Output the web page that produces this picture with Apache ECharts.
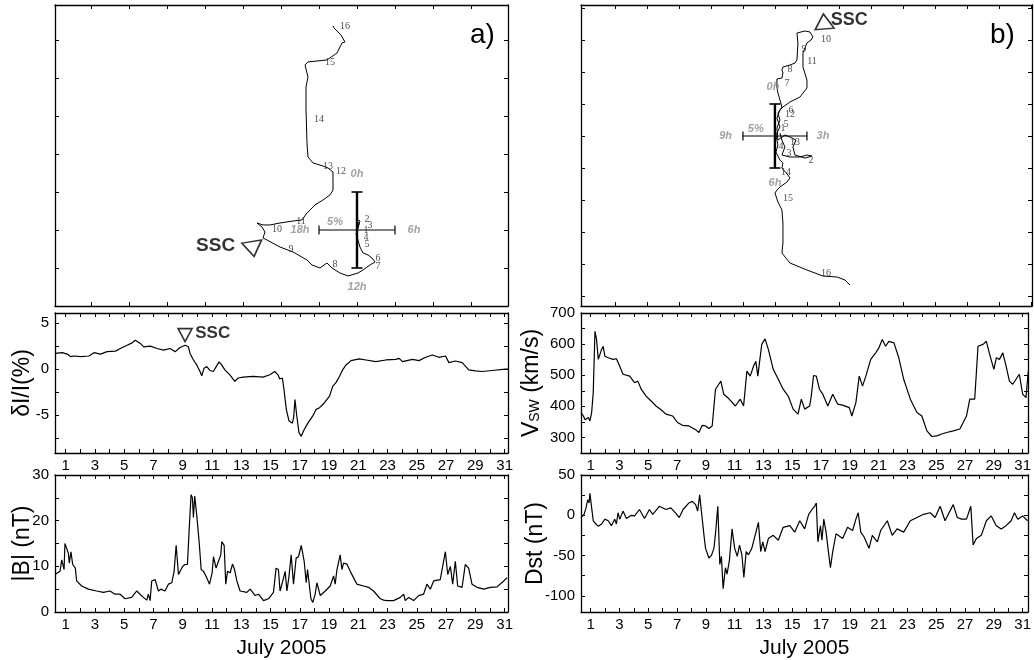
<!DOCTYPE html>
<html><head><meta charset="utf-8">
<script src="https://cdn.jsdelivr.net/npm/echarts@6/dist/echarts.min.js"></script>
<style>html,body{margin:0;padding:0;background:#fff}#c{width:1034px;height:660px}</style>
</head><body><div id="c"></div>
<script>
// ---------- tick labels ----------
const dayTicks = [1,2,3,4,5,6,7,8,9,10,11,12,13,14,15,16,17,18,19,20,21,22,23,24,25,26,27,28,29,30,31];
const dayLabels = [1,3,5,7,9,11,13,15,17,19,21,23,25,27,29,31];

// ---------- panel a) anisotropy vector trajectory (% units) ----------
const trajAX = [0,0.26,-0.13,0.39,0.13,-0.13,0.13,0.39,0.79,1.45,1.97,2.37,1.71,0.79,0.13,-1.18,-2.24,-3.29,-3.95,-4.87,-5.92,-6.58,-8.42,-10.13,-11.84,-12.37,-12.11,-12.5,-13.16,-12.37,-11.45,-10.13,-8.42,-7.24,-6.58,-5.53,-4.47,-3.55,-3.16,-3.16,-3.82,-4.47,-5.79,-6.45,-6.58,-6.71,-6.71,-6.45,-6.84,-6.45,-3.95,-2.63,-1.97,-1.58,-2.11,-3.03,-3.16];
const trajAY = [0,0.79,1.45,1.18,0.26,-0.53,-1.32,-2.24,-3.03,-3.29,-3.68,-4.21,-4.61,-5.26,-5.66,-6.05,-5.66,-5.0,-4.34,-5.0,-4.61,-3.95,-2.89,-2.24,-1.32,-1.05,-0.26,0.39,0.92,0.66,0.66,0.92,1.18,1.32,2.24,3.29,3.95,4.61,5.26,7.63,8.16,8.42,8.82,9.61,11.45,15.79,18.82,20.13,21.71,22.11,22.37,23.29,24.61,24.74,25.66,26.58,26.84];
const dayTagsA = [['1',1.18,0],['2',1.32,1.45],['3',1.71,0.66],['4',1.18,-0.92],['5',1.32,-1.84],['6',2.76,-3.68],['7',2.76,-4.74],['8',-2.89,-4.47],['9',-8.68,-2.5],['10',-10.53,0.13],['11',-7.37,1.18],['12',-2.11,7.76],['13',-3.82,8.42],['14',-5.0,14.6],['15',-3.55,22.1],['16',-1.58,26.84]];
const hourTagsA = [['0h',0,7.4],['6h',7.5,0],['12h',0,-7.5],['18h',-7.5,0]];

// ---------- panel b) ----------
const trajBX = [0.78,1.09,1.56,1.09,2.34,3.91,5.0,5.78,4.69,3.13,2.81,3.28,2.34,1.56,0.47,0.31,0.78,0.47,1.09,0.78,0.47,0.31,0.31,1.09,1.25,1.09,1.25,2.34,3.13,3.44,3.59,3.44,4.69,5.47,5.94,6.25,5.63,5.0,4.38,4.38,5.0,5.0,3.91,2.34,1.25,0.78,0.31,0.78,0.16,0.47,0.16,0.78,1.25,1.09,2.03,2.34,1.88,0.78,0.31,0,0.47,1.09,1.25,1.25,1.09,2.34,5.0,7.5,9.69,10.94,11.72];
const trajBY = [0.47,-0.63,-1.72,-2.97,-3.28,-3.28,-2.97,-3.13,-3.44,-2.97,-1.72,-0.63,-0.16,0.16,-0.63,1.25,2.5,3.59,4.53,5.63,6.72,7.66,8.91,9.06,9.84,10.31,10.78,11.09,11.41,11.88,14.53,16.09,16.41,16.25,15.47,15.31,15.0,14.53,12.97,10.78,8.75,7.5,6.09,5.31,4.53,4.06,2.81,1.41,0.16,-1.41,-2.5,-3.75,-4.22,-5.0,-6.09,-6.56,-7.19,-7.97,-8.44,-8.91,-10.31,-11.56,-13.59,-16.72,-18.28,-19.84,-20.94,-21.88,-22.03,-22.5,-23.28];
const dayTagsB = [['1',1.25,1.25],['2',5.63,-3.75],['3',2.19,-2.66],['4',0.94,-1.56],['5',1.72,1.88],['6',2.5,4.06],['7',1.88,8.28],['8',2.34,10.47],['9',4.53,13.59],['10',7.97,15.16],['11',5.78,11.72],['12',2.34,3.44],['13',3.13,-0.94],['14',1.72,-5.63],['15',2.03,-9.69],['16',7.97,-21.41]];
const hourTagsB = [['0h',-0.3,7.7],['3h',7.5,0],['6h',0,-7.4],['9h',-7.7,0]];
const scalePct = 5;

// ---------- time series (day of July 2005) ----------
const dIDays = [0.27,0.77,1.11,1.23,1.34,1.57,2.02,2.59,2.93,3.38,3.83,4.40,4.74,5.20,5.54,5.76,6.10,6.33,6.78,7.24,7.69,8.14,8.48,8.82,9.16,9.39,9.50,9.73,9.96,10.18,10.30,10.46,10.64,10.86,11.09,11.32,11.48,11.66,11.88,12.22,12.56,12.79,13.13,13.81,14.49,14.95,15.29,15.51,15.63,15.81,15.92,16.08,16.26,16.49,16.58,16.67,16.78,16.94,17.10,17.26,17.55,17.89,18.12,18.35,18.69,19.03,19.25,19.48,19.71,19.93,20.16,20.50,21.07,21.52,22.20,22.88,23.56,23.79,24.02,24.70,25.15,25.60,26.06,26.51,26.96,27.19,27.64,28.10,28.55,29.00,29.46,30.14,31.05,31.23];
const dIValues = [1.71,1.79,1.64,1.79,1.36,1.43,1.36,1.43,1.79,1.64,1.9,1.96,2.25,2.6,2.86,3.14,2.8,2.43,2.5,2.25,2.07,2.25,1.9,2.36,2.6,2.43,1.71,1.0,0.46,-0.25,-0.71,0.11,0.29,-0.14,-0.25,0.36,0.79,0.46,-0.07,-0.61,-1.32,-0.96,-0.86,-0.79,-0.86,-0.61,-0.25,-0.61,-1.07,-0.96,-2.21,-4.36,-5.6,-5.86,-5.25,-3.29,-4.89,-6.86,-7.29,-6.68,-5.86,-5.07,-4.36,-4.18,-3.64,-2.93,-1.86,-1.43,-0.79,-0.07,0.46,0.93,1.11,1.0,0.82,1.0,1.07,1.18,0.82,1.07,0.93,1.29,1.54,1.29,1.43,0.71,0.89,0.71,-0.07,-0.18,-0.25,-0.14,0,0.02];

const vDays = [0.33,0.50,0.61,0.84,0.95,1.07,1.18,1.30,1.41,1.53,1.76,1.87,1.99,2.22,2.56,2.79,3.02,3.25,3.71,4.05,4.28,4.51,4.85,5.20,5.54,5.89,6.23,6.69,7.03,7.38,7.83,8.29,8.52,8.75,8.98,9.21,9.44,9.67,9.90,10.04,10.24,10.59,11.05,11.39,11.62,11.85,12.08,12.31,12.47,12.61,12.88,13.11,13.34,13.68,14.03,14.37,14.72,15.06,15.40,15.63,15.86,16.21,16.32,16.48,16.67,16.89,17.12,17.47,17.81,18.16,18.50,18.96,19.14,19.42,19.65,19.88,20.11,20.45,20.79,21.02,21.25,21.48,21.71,22.06,22.40,22.74,23.20,23.66,24.00,24.35,24.69,25.04,25.38,25.72,26.18,26.64,27.10,27.33,27.67,27.90,28.25,28.48,28.71,29.00,29.17,29.39,29.62,29.85,30.08,30.31,30.54,30.77,31.00,31.23,31.39];
const vValues = [380,369,357,364,353,380,444,641,615,551,583,593,561,556,551,553,529,503,497,476,481,455,433,417,401,389,375,369,348,339,337,325,316,339,337,329,337,455,471,481,439,425,401,423,401,513,497,529,545,497,599,617,583,519,487,455,433,391,375,423,391,401,433,499,497,455,439,401,439,407,404,396,369,412,497,465,497,551,572,588,615,593,609,604,556,487,423,380,369,321,303,305,311,316,321,327,369,423,423,593,599,609,567,519,556,551,572,529,481,471,487,503,439,428,513];

const bDays = [0.27,0.61,0.73,0.84,0.89,0.95,1.07,1.18,1.25,1.36,1.48,1.57,1.66,1.75,2.09,2.55,3.12,3.58,4.03,4.37,4.72,5.06,5.51,5.86,6.08,6.31,6.54,6.65,6.77,6.88,7.11,7.34,7.50,7.79,8.02,8.25,8.41,8.55,8.71,9.00,9.16,9.32,9.46,9.57,9.66,9.73,9.82,9.96,10.12,10.26,10.42,10.64,10.83,11.01,11.10,11.28,11.44,11.60,11.67,11.83,11.94,12.06,12.24,12.40,12.54,12.70,12.92,13.38,13.61,13.95,14.18,14.52,14.86,15.20,15.38,15.54,15.65,15.84,16.00,16.12,16.25,16.41,16.57,16.75,16.91,17.10,17.30,17.44,17.53,17.76,17.89,18.05,18.17,18.40,18.74,19.08,19.31,19.42,19.54,19.76,19.88,19.99,20.22,20.45,20.90,21.36,21.70,22.04,22.50,22.73,22.96,23.41,23.87,24.10,24.21,24.44,24.78,25.12,25.46,25.69,25.92,26.15,26.60,26.95,27.11,27.29,27.45,27.63,27.79,28.09,28.31,28.54,28.77,29.11,29.57,30.02,30.48,30.94,31.16];
const bValues = [8.2,8.9,11.4,11.1,9.3,15.0,14.6,12.9,10.7,13.2,10.4,10.5,9.6,6.8,5.7,5.0,4.6,4.3,4.6,3.9,3.9,2.9,3.2,4.6,3.9,3.2,2.6,3.9,2.5,6.8,7.1,4.6,5.0,4.6,6.1,6.4,8.9,14.6,8.2,10.0,10.4,10.4,19.3,25.7,25.0,20.7,25.4,21.1,15.4,9.3,8.9,7.5,6.1,8.6,12.1,9.6,11.1,12.5,15.4,14.6,6.1,8.9,8.6,10.5,9.3,6.8,4.6,4.3,5.0,3.6,3.9,2.5,2.9,4.3,9.6,9.3,4.6,6.8,8.9,4.6,7.5,12.5,6.1,11.8,12.1,14.6,11.1,6.4,9.3,2.9,2.1,3.9,6.4,3.6,4.6,5.7,7.9,6.1,9.3,12.5,9.3,10.7,10.5,8.9,6.1,5.7,5.4,4.6,2.9,2.6,2.5,2.5,3.2,3.9,2.5,3.2,2.5,3.6,3.9,6.1,5.0,6.8,7.1,13.2,8.2,10.0,6.1,11.1,5.7,5.4,10.4,9.6,6.1,5.4,5.0,5.4,5.5,6.8,7.5];

const dstDays = [0.33,0.45,0.54,0.68,0.79,0.89,0.95,1.07,1.18,1.37,1.53,1.76,1.99,2.22,2.44,2.67,2.79,2.90,3.02,3.25,3.48,3.82,4.05,4.39,4.74,5.08,5.31,5.77,6.23,6.57,6.92,7.15,7.42,7.83,8.06,8.29,8.43,8.57,8.75,8.87,8.98,9.21,9.39,9.56,9.67,9.83,9.97,10.08,10.20,10.36,10.47,10.63,10.82,11.00,11.18,11.34,11.50,11.64,11.80,11.96,12.19,12.42,12.65,12.81,12.95,13.11,13.34,13.68,14.03,14.37,14.83,15.17,15.52,15.86,16.14,16.37,16.55,16.67,16.78,16.96,17.06,17.19,17.35,17.51,17.65,17.81,18.04,18.50,18.84,19.19,19.42,19.58,19.76,19.99,20.33,20.56,20.91,21.14,21.60,21.94,22.28,22.74,23.20,23.66,24.12,24.58,24.92,25.27,25.61,25.95,26.18,26.46,26.76,27.10,27.40,27.56,27.79,28.13,28.48,28.82,29.17,29.51,29.85,30.20,30.43,30.66,31.00,31.34];
const dstValues = [-2.8,-4.8,1.2,9.2,19.3,15.3,27.3,9.2,-6.8,-10.8,-13.7,-10.8,-4.8,-6.8,-12.9,-4.8,-10.8,3.2,-4.8,5.2,-4.0,0,-0.8,7.2,-4.0,7.2,1.2,11.2,7.2,9.2,2.4,-2.8,7.2,15.3,17.3,13.3,5.2,25.3,-4.8,-24.9,-41.0,-53.0,-49.8,-41.0,-22.9,11.2,-61.0,-51.0,-91.2,-65.1,-73.1,-57.0,-16.9,-41.0,-51.0,-36.9,-49.0,-77.1,-45.0,-49.0,-41.0,-24.9,-8.8,-45.0,-32.9,-45.0,-28.9,-24.9,-30.9,-14.9,-12.9,-20.9,-6.8,-16.9,1.2,7.2,11.2,15.3,-32.9,-12.9,-30.9,-4.8,-20.9,-45.0,-65.1,-45.0,-22.9,-28.9,-14.9,-18.9,-4.8,3.2,-20.9,-26.9,-41.0,-24.9,-32.9,-18.9,-6.8,-24.9,-16.9,-20.9,-6.8,-2.8,1.2,3.2,-2.8,11.2,-6.8,5.2,13.3,-2.8,-4.8,-4.8,11.2,-36.9,-28.9,-24.9,-6.8,-0.8,-12.9,-16.9,-12.9,-6.8,3.2,-4.8,-0.8,-6.8];

// SSC markers: [x, y] in each panel's data units
const sscA = {tri:[-13.7,-2.5], text:[-18.6,-2.1]};
const sscB = {tri:[7.66,17.9], text:[11.6,18.1]};
const sscMid = {tri:[9.16,3.7], text:[11.05,3.9]};

// ---------- build ----------
const zip = (a,b) => a.map((v,i)=>[v,b[i]]);
const FONT = 'Liberation Sans, Arial, sans-serif';
const AX = {color:'#000', width:1.3};

function xPair(g, min, max, ticks, labels, name) {
  const base = {gridIndex:g, type:'value', min, max, splitLine:{show:false},
    axisLine:{show:true, onZero:false, lineStyle:AX}};
  return [
    Object.assign({}, base, {position:'bottom',
      axisTick:{show:true, inside:true, length:4, customValues:ticks, lineStyle:{color:'#000'}},
      axisLabel: labels ? {show:true, customValues:labels, fontSize:15, color:'#000', margin:5, fontFamily:FONT} : {show:false},
      name: name || '', nameLocation:'middle', nameGap:26, nameMoveOverlap:false,
      nameTextStyle:{fontSize:21, color:'#000', fontFamily:FONT}}),
    Object.assign({}, base, {position:'top',
      axisTick:{show:true, inside:true, length:4, customValues:ticks, lineStyle:{color:'#000'}},
      axisLabel:{show:false}})
  ];
}
function yPair(g, min, max, ticks, labels, name, gap) {
  const base = {gridIndex:g, type:'value', min, max, splitLine:{show:false},
    axisLine:{show:true, onZero:false, lineStyle:AX}};
  return [
    Object.assign({}, base, {position:'left',
      axisTick:{show:true, inside:true, length:4, customValues:ticks, lineStyle:{color:'#000'}},
      axisLabel: labels ? {show:true, customValues:labels, fontSize:15, color:'#000', margin:6, fontFamily:FONT} : {show:false},
      name: name || '', nameLocation:'middle', nameGap:gap || 25, nameMoveOverlap:false,
      nameTextStyle:{fontSize:23, color:'#000', fontFamily:FONT,
        rich:{n:{fontSize:23, color:'#000', fontFamily:FONT}, s:{fontSize:14, color:'#000', fontFamily:FONT, padding:[8,0,0,0]}}}}),
    Object.assign({}, base, {position:'right',
      axisTick:{show:true, inside:true, length:4, customValues:ticks, lineStyle:{color:'#000'}},
      axisLabel:{show:false}})
  ];
}

const xAxes = [].concat(
  xPair(0, -39.74, 19.87, [-35,-30,-25,-20,-15,-10,-5,0,5,10,15], null),
  xPair(1, -30.3, 40.16, [-25,-20,-15,-10,-5,0,5,10,15,20,25,30,35,40], null),
  xPair(2, 0.27, 31.23, dayTicks, dayLabels),
  xPair(3, 0.33, 31.37, dayTicks, dayLabels),
  xPair(4, 0.27, 31.23, dayTicks, dayLabels, 'July 2005'),
  xPair(5, 0.33, 31.37, dayTicks, dayLabels, 'July 2005')
);
const yAxes = [].concat(
  yPair(0, -10.0, 29.6, [-5,0,5,10,15,20,25], null),
  yPair(1, -26.56, 20.47, [-25,-20,-15,-10,-5,0,5,10,15,20], null),
  yPair(2, -9.1, 6.1, [-7.5,-5,-2.5,0,2.5,5], [-5,0,5], 'δI/I(%)', 21),
  yPair(3, 250, 700, [300,350,400,450,500,550,600,650,700], [300,400,500,600,700], '{n|V}{s|SW}{n| (km/s)}', 38),
  yPair(4, 0, 30, [0,5,10,15,20,25,30], [0,10,20,30], '|B| (nT)', 21),
  yPair(5, -120, 50, [-100,-75,-50,-25,0,25,50], [-100,-50,0,50], 'Dst (nT)', 34)
);

function line(g, data, w) {
  return {type:'line', xAxisIndex:2*g, yAxisIndex:2*g, data, showSymbol:false, symbol:'none',
    lineStyle:{color:'#000', width:w||1}, silent:true, animation:false};
}
function tags(g, items, style) {
  return {type:'scatter', xAxisIndex:2*g, yAxisIndex:2*g, symbolSize:1, silent:true,
    itemStyle:{color:'rgba(0,0,0,0)'},
    data: items.map(t=>({name:t[0], value:[t[1],t[2]]})),
    label:Object.assign({show:true, position:'inside', formatter:'{b}'}, style), z:6};
}
function tri(g, pos, size, rot) {
  return {type:'scatter', xAxisIndex:2*g, yAxisIndex:2*g, symbol:'triangle', symbolSize:size, symbolRotate:rot,
    silent:true, data:[pos], itemStyle:{color:'rgba(0,0,0,0)', borderColor:'#000', borderWidth:1.6}, z:7};
}
function cross(g, hCap, vCap) {
  const s = scalePct;
  return [
    line(g, [[-s,0],[s,0]], 1.2),
    line(g, [[0,-s],[0,s]], 2.4),
    {type:'scatter', xAxisIndex:2*g, yAxisIndex:2*g, symbol:'rect', symbolSize:hCap, silent:true,
      data:[[-s,0],[s,0]], itemStyle:{color:'#000'}},
    {type:'scatter', xAxisIndex:2*g, yAxisIndex:2*g, symbol:'rect', symbolSize:vCap, silent:true,
      data:[[0,-s],[0,s]], itemStyle:{color:'#000'}}
  ];
}
const dayStyle = {fontFamily:'Liberation Serif, serif', fontSize:10, color:'#222'};
const hourStyle = {fontFamily:FONT, fontSize:11, color:'#8a8a8a', fontStyle:'italic', fontWeight:'bold'};
const sscStyle = (fs) => ({fontFamily:FONT, fontSize:fs, color:'#000', fontWeight:'bold'});

const series = [].concat(
  [line(0, zip(trajAX, trajAY), 1)],
  cross(0, [1.5,9], [11,2]),
  [tags(0, dayTagsA, dayStyle), tags(0, hourTagsA, hourStyle), tags(0, [['5%',-2.9,1.05]], hourStyle),
   tri(0, sscA.tri, [20,15], 189), tags(0, [['SSC', sscA.text[0], sscA.text[1]]], sscStyle(19))],
  [line(1, zip(trajBX, trajBY), 1)],
  cross(1, [1.5,9], [11,2]),
  [tags(1, dayTagsB, dayStyle), tags(1, hourTagsB, hourStyle), tags(1, [['5%',-3.0,1.1]], hourStyle),
   tri(1, sscB.tri, [19,15], 5), tags(1, [['SSC', sscB.text[0], sscB.text[1]]], sscStyle(18))],
  [line(2, zip(dIDays, dIValues), 1.2),
   tri(2, sscMid.tri, [14,13], 180), tags(2, [['SSC', sscMid.text[0], sscMid.text[1]]], sscStyle(17))],
  [line(3, zip(vDays, vValues), 1.2)],
  [line(4, zip(bDays, bValues), 1.2)],
  [line(5, zip(dstDays, dstValues), 1.2)]
);

const chart = echarts.init(document.getElementById('c'), null, {renderer:'canvas'});
chart.setOption({
  animation:false,
  backgroundColor:'#fff',
  textStyle:{fontFamily:FONT},
  grid:[
    {left:55, top:5, width:453, height:301},
    {left:581, top:5, width:451, height:301},
    {left:55, top:313, width:453, height:140},
    {left:581, top:313, width:451, height:140},
    {left:55, top:475, width:453, height:140},
    {left:581, top:475, width:451, height:141}
  ],
  xAxis:xAxes,
  yAxis:yAxes,
  series,
  graphic:[
    {type:'text', left:470, top:21, style:{text:'a)', fontSize:28, fill:'#000', fontFamily:FONT}},
    {type:'text', left:990, top:21, style:{text:'b)', fontSize:28, fill:'#000', fontFamily:FONT}}
  ]
});
</script></body></html>
